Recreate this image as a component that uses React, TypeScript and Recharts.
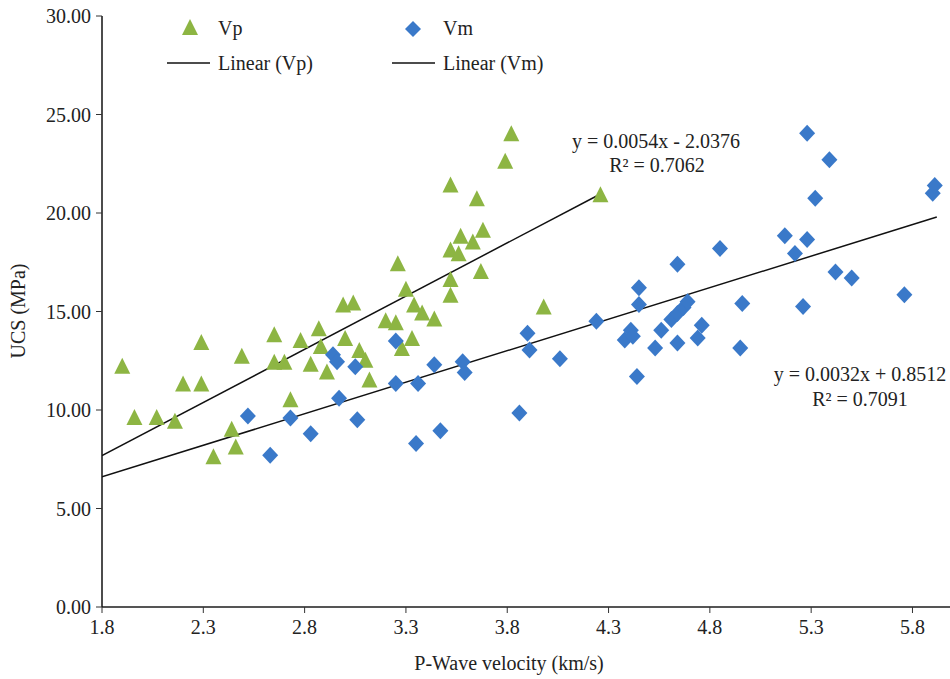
import { ScatterChart, Scatter, XAxis, YAxis, Legend } from 'recharts';

// Vp (km/s) vs UCS (MPa)
const vpVelocity = [1.90, 1.96, 2.07, 2.16, 2.20, 2.29, 2.29, 2.35, 2.44, 2.46, 2.49, 2.65, 2.65, 2.70, 2.73, 2.78, 2.83, 2.87, 2.88, 2.91, 2.99, 3.00, 3.04, 3.07, 3.10, 3.12, 3.20, 3.25, 3.26, 3.28, 3.30, 3.33, 3.34, 3.38, 3.44, 3.52, 3.52, 3.52, 3.52, 3.56, 3.57, 3.63, 3.65, 3.67, 3.68, 3.79, 3.82, 3.98, 4.26];
const vpUcs = [12.2, 9.6, 9.6, 9.4, 11.3, 11.3, 13.4, 7.6, 9.0, 8.1, 12.7, 13.8, 12.4, 12.4, 10.5, 13.5, 12.3, 14.1, 13.2, 11.9, 15.3, 13.6, 15.4, 13.0, 12.5, 11.5, 14.5, 14.4, 17.4, 13.1, 16.1, 13.6, 15.3, 14.9, 14.6, 21.4, 18.1, 16.6, 15.8, 17.9, 18.8, 18.5, 20.7, 17.0, 19.1, 22.6, 24.0, 15.2, 20.9];

// Vm (km/s) vs UCS (MPa)
const vmVelocity = [2.52, 2.63, 2.73, 2.83, 2.94, 2.96, 2.97, 3.05, 3.06, 3.25, 3.25, 3.35, 3.36, 3.44, 3.47, 3.58, 3.59, 3.86, 3.90, 3.91, 4.06, 4.24, 4.38, 4.41, 4.42, 4.44, 4.45, 4.45, 4.53, 4.56, 4.61, 4.64, 4.67, 4.69, 4.64, 4.64, 4.74, 4.76, 4.85, 4.95, 4.96, 5.17, 5.22, 5.26, 5.28, 5.28, 5.32, 5.39, 5.42, 5.50, 5.76, 5.90, 5.91];
const vmUcs = [9.7, 7.7, 9.6, 8.8, 12.8, 12.45, 10.6, 12.2, 9.5, 13.5, 11.35, 8.3, 11.35, 12.3, 8.95, 12.45, 11.9, 9.85, 13.9, 13.05, 12.6, 14.5, 13.55, 14.05, 13.75, 11.7, 16.2, 15.35, 13.15, 14.05, 14.6, 14.9, 15.2, 15.5, 17.4, 13.4, 13.65, 14.3, 18.2, 13.15, 15.4, 18.85, 17.95, 15.25, 18.65, 24.05, 20.75, 22.7, 17.0, 16.7, 15.85, 21.0, 21.4];

const xTicks = [1.8, 2.3, 2.8, 3.3, 3.8, 4.3, 4.8, 5.3, 5.8];
const yTicks = [0, 5, 10, 15, 20, 25, 30];

// Excel linear trendlines (x in m/s)
const vpFit = { slope: 0.0054, intercept: -2.0376, range: [1.8, 4.26] };
const vmFit = { slope: 0.0032, intercept: 0.8512, range: [1.8, 5.92] };

const GREEN = '#8db543';
const BLUE = '#3a79c9';
const FONT = '"Liberation Serif", "Times New Roman", serif';

const toPoints = (xs: number[], ys: number[]) => xs.map((x, i) => ({ x, y: ys[i] }));
const fitPoints = (f: typeof vpFit) => f.range.map((x) => ({ x, y: f.slope * x * 1000 + f.intercept }));

const Triangle = (p: any) => (
  <polygon points={`${p.cx},${p.cy - 9} ${p.cx - 8},${p.cy + 7} ${p.cx + 8},${p.cy + 7}`} fill={GREEN} />
);
const Diamond = (p: any) => (
  <polygon points={`${p.cx},${p.cy - 8.5} ${p.cx + 8},${p.cy} ${p.cx},${p.cy + 8.5} ${p.cx - 8},${p.cy}`} fill={BLUE} />
);
const NoDot = () => <g />;

const LegendBox = () => (
  <svg width={600} height={80} style={{ display: 'block', fontFamily: FONT, fontSize: 20 }}>
    <polygon points="190,19 182,35 198,35" fill={GREEN} />
    <text x={218} y={35} fill="#222">Vp</text>
    <line x1={167} y1={63} x2={210} y2={63} stroke="#111" strokeWidth={1.5} />
    <text x={218} y={70} fill="#222">Linear (Vp)</text>
    <polygon points="413,21 421,29 413,37 405,29" fill={BLUE} />
    <text x={443} y={35} fill="#222">Vm</text>
    <line x1={392} y1={63} x2={435} y2={63} stroke="#111" strokeWidth={1.5} />
    <text x={443} y={70} fill="#222">Linear (Vm)</text>
  </svg>
);

const XTitle = () => (
  <text x={509} y={670} textAnchor="middle" fontFamily={FONT} fontSize={20} fill="#222">
    P-Wave velocity (km/s)
  </text>
);
const YTitle = () => (
  <text x={25} y={311} transform="rotate(-90 25 311)" textAnchor="middle" fontFamily={FONT} fontSize={20} fill="#222">
    UCS (MPa)
  </text>
);

const tickStyle = { fontFamily: FONT, fontSize: 20, fill: '#222' };

export default function App() {
  return (
    <div style={{ position: 'absolute', left: 0, top: 0, width: 950, height: 679, overflow: 'hidden', background: '#fff' }}>
      <ScatterChart width={960} height={679} margin={{ top: 16, right: 7, bottom: 0, left: 0 }}>
        <XAxis
          type="number"
          dataKey="x"
          domain={[1.8, 6.0]}
          ticks={xTicks}
          interval={0}
          allowDataOverflow
          tickFormatter={(v) => Number(v).toFixed(1)}
          tick={tickStyle}
          tickSize={6}
          tickMargin={7}
          height={72}
          axisLine={{ stroke: '#555', strokeWidth: 2 }}
          tickLine={{ stroke: '#333' }}
          label={<XTitle />}
        />
        <YAxis
          type="number"
          dataKey="y"
          domain={[0, 30]}
          ticks={yTicks}
          interval={0}
          tickFormatter={(v) => Number(v).toFixed(2)}
          tick={tickStyle}
          tickSize={6}
          tickMargin={5}
          width={102}
          axisLine={{ stroke: '#111', strokeWidth: 1.5 }}
          tickLine={{ stroke: '#333' }}
          label={<YTitle />}
        />
        <Legend content={LegendBox} verticalAlign="middle" align="center" wrapperStyle={{ top: 0, left: 0, width: 600, height: 80 }} />
        <Scatter name="Linear (Vp)" data={fitPoints(vpFit)} line={{ stroke: '#111', strokeWidth: 1.5 }} shape={NoDot} isAnimationActive={false} />
        <Scatter name="Linear (Vm)" data={fitPoints(vmFit)} line={{ stroke: '#111', strokeWidth: 1.5 }} shape={NoDot} isAnimationActive={false} />
        <Scatter name="Vp" data={toPoints(vpVelocity, vpUcs)} shape={Triangle} isAnimationActive={false} />
        <Scatter name="Vm" data={toPoints(vmVelocity, vmUcs)} shape={Diamond} isAnimationActive={false} />
      </ScatterChart>
      <svg width={950} height={679} style={{ position: 'absolute', left: 0, top: 0, pointerEvents: 'none', fontFamily: FONT, fontSize: 20 }}>
        <text x={656} y={148} textAnchor="middle" fill="#222">y = 0.0054x - 2.0376</text>
        <text x={657} y={172} textAnchor="middle" fill="#222">R² = 0.7062</text>
        <text x={860} y={381} textAnchor="middle" fill="#222">y = 0.0032x + 0.8512</text>
        <text x={860} y={406} textAnchor="middle" fill="#222">R² = 0.7091</text>
      </svg>
    </div>
  );
}
